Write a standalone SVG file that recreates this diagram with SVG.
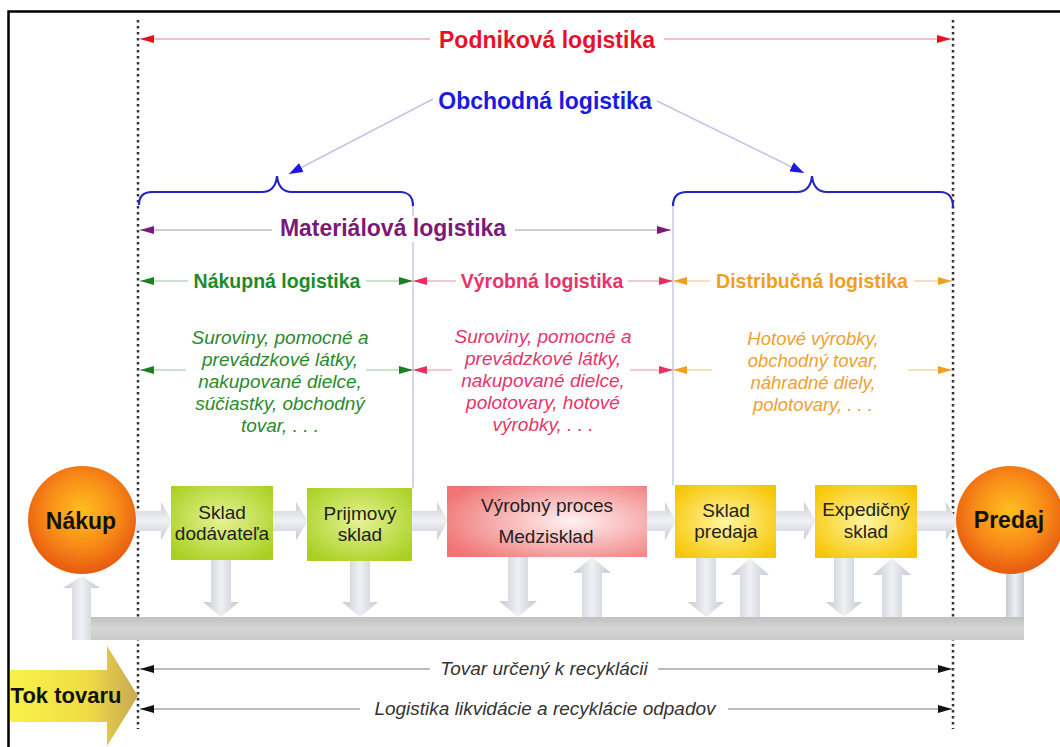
<svg xmlns="http://www.w3.org/2000/svg" width="1060" height="747" viewBox="0 0 1060 747">
<style>
text{font-family:"Liberation Sans",Arial,sans-serif;text-anchor:middle}
.hb{font-weight:bold;font-size:23px}
.hs{font-weight:bold;font-size:19.5px}
.it{font-style:italic;font-size:19px}
.bx{font-size:19px;fill:#222}
.cb{font-weight:bold;font-size:23px;fill:#111}
.dot{stroke:#333;stroke-width:2.5;stroke-dasharray:2.5 3.5;fill:none}
.ln{stroke-width:1.5;fill:none}
.brace{stroke:#2424c0;stroke-width:2.2;fill:none}
.vl{stroke:#c8c8e4;stroke-width:1.5}
.harr{fill:url(#gH)}
.varr{fill:url(#gV)}
</style>
<defs>
<marker id="mRed" viewBox="0 0 14 8" refX="14" refY="4" markerWidth="14" markerHeight="8" markerUnits="userSpaceOnUse" orient="auto-start-reverse"><path d="M0,0 L14,4 L0,8 z" fill="#e8101c"/></marker>
<marker id="mBlue" viewBox="0 0 14 10" refX="14" refY="5" markerWidth="14" markerHeight="10" markerUnits="userSpaceOnUse" orient="auto-start-reverse"><path d="M0,0 L14,5 L0,10 z" fill="#1a1ae0"/></marker>
<marker id="mPur" viewBox="0 0 14 8" refX="14" refY="4" markerWidth="14" markerHeight="8" markerUnits="userSpaceOnUse" orient="auto-start-reverse"><path d="M0,0 L14,4 L0,8 z" fill="#7a1a78"/></marker>
<marker id="mGrn" viewBox="0 0 14 8" refX="14" refY="4" markerWidth="14" markerHeight="8" markerUnits="userSpaceOnUse" orient="auto-start-reverse"><path d="M0,0 L14,4 L0,8 z" fill="#1e7e22"/></marker>
<marker id="mPnk" viewBox="0 0 14 8" refX="14" refY="4" markerWidth="14" markerHeight="8" markerUnits="userSpaceOnUse" orient="auto-start-reverse"><path d="M0,0 L14,4 L0,8 z" fill="#e83060"/></marker>
<marker id="mOrg" viewBox="0 0 14 8" refX="14" refY="4" markerWidth="14" markerHeight="8" markerUnits="userSpaceOnUse" orient="auto-start-reverse"><path d="M0,0 L14,4 L0,8 z" fill="#f0a020"/></marker>
<marker id="mBlk" viewBox="0 0 14 8" refX="14" refY="4" markerWidth="14" markerHeight="8" markerUnits="userSpaceOnUse" orient="auto-start-reverse"><path d="M0,0 L14,4 L0,8 z" fill="#111"/></marker>
<linearGradient id="gH" x1="0" y1="0" x2="0" y2="1"><stop offset="0" stop-color="#c8ccd6"/><stop offset="0.5" stop-color="#f0f2f6"/><stop offset="1" stop-color="#c4c8d2"/></linearGradient>
<linearGradient id="gV" x1="0" y1="0" x2="1" y2="0"><stop offset="0" stop-color="#c4c8d0"/><stop offset="0.5" stop-color="#eef0f4"/><stop offset="1" stop-color="#c4c8d0"/></linearGradient>
<linearGradient id="gBar" x1="0" y1="0" x2="0" y2="1"><stop offset="0" stop-color="#c0c0c0"/><stop offset="0.5" stop-color="#d6d6d6"/><stop offset="1" stop-color="#cacaca"/></linearGradient>
<radialGradient id="gGreen" cx="0.5" cy="0.45" r="0.65"><stop offset="0" stop-color="#e6f296"/><stop offset="1" stop-color="#a8d020"/></radialGradient>
<radialGradient id="gPink" cx="0.62" cy="0.5" r="0.7"><stop offset="0" stop-color="#fff2f2"/><stop offset="1" stop-color="#f07474"/></radialGradient>
<radialGradient id="gYel" cx="0.5" cy="0.5" r="0.65"><stop offset="0" stop-color="#fff6a0"/><stop offset="1" stop-color="#f6c400"/></radialGradient>
<radialGradient id="gOrb" cx="0.5" cy="0.42" r="0.55"><stop offset="0" stop-color="#ffc020"/><stop offset="0.6" stop-color="#f88a18"/><stop offset="1" stop-color="#e85e10"/></radialGradient>
<linearGradient id="gTok" x1="0" y1="0" x2="1" y2="0"><stop offset="0" stop-color="#f8f24a"/><stop offset="0.6" stop-color="#f0dc44"/><stop offset="1" stop-color="#c8a854"/></linearGradient>
</defs>

<rect x="0" y="0" width="1060" height="747" fill="#fff"/>
<rect x="8.5" y="11.5" width="1060" height="745" fill="none" stroke="#000" stroke-width="2.5"/>

<!-- dotted boundary lines -->
<g id="boundaries">
<line class="dot" x1="138" y1="20" x2="138" y2="729"/>
<line class="dot" x1="953" y1="20" x2="953" y2="729"/>
</g>

<!-- Tok tovaru arrow -->
<g id="tok-tovaru">
<path d="M10,670 H107 V646 L138,696 L107,746 V722 H10 Z" fill="url(#gTok)"/>
<text x="66" y="703" style="font-weight:bold;font-size:22px;fill:#111">Tok tovaru</text>
</g>

<!-- connectors -->
<g id="connectors">
<path class="brace" d="M139,205 C139,197 143,192 152,192 L262,192 C272,192 276,186 277,176 C278,186 282,192 292,192 L400,192 C408,192 413,197 413,206"/>
<path class="brace" d="M673,206 C673,197 678,192 687,192 L797,192 C807,192 811,186 812,176 C813,186 817,192 827,192 L940,192 C948,192 953,197 953,207"/>
<line class="vl" x1="413" y1="206" x2="413" y2="488"/>
<line class="vl" x1="673" y1="206" x2="673" y2="485"/>

<line class="ln" stroke="#f4a8b0" x1="430" y1="39" x2="140" y2="39" marker-end="url(#mRed)"/>
<line class="ln" stroke="#f4a8b0" x1="664" y1="39" x2="951" y2="39" marker-end="url(#mRed)"/>

<line class="ln" stroke="#c4c4e8" x1="433" y1="99" x2="289" y2="174" marker-end="url(#mBlue)"/>
<line class="ln" stroke="#c4c4e8" x1="657" y1="101" x2="804" y2="173" marker-end="url(#mBlue)"/>

<line class="ln" stroke="#ccb4cc" x1="272" y1="230" x2="140" y2="230" marker-end="url(#mPur)"/>
<line class="ln" stroke="#ccb4cc" x1="515" y1="230" x2="671" y2="230" marker-end="url(#mPur)"/>

<line class="ln" stroke="#bcd6bc" x1="188" y1="281" x2="140" y2="281" marker-end="url(#mGrn)"/>
<line class="ln" stroke="#bcd6bc" x1="366" y1="281" x2="413" y2="281" marker-end="url(#mGrn)"/>
<line class="ln" stroke="#f4b4c6" x1="456" y1="281" x2="413" y2="281" marker-end="url(#mPnk)"/>
<line class="ln" stroke="#f4b4c6" x1="628" y1="281" x2="673" y2="281" marker-end="url(#mPnk)"/>
<line class="ln" stroke="#f8d4a4" x1="710" y1="281" x2="673" y2="281" marker-end="url(#mOrg)"/>
<line class="ln" stroke="#f8d4a4" x1="914" y1="281" x2="952" y2="281" marker-end="url(#mOrg)"/>

<line class="ln" stroke="#bcd6bc" x1="186" y1="370" x2="140" y2="370" marker-end="url(#mGrn)"/>
<line class="ln" stroke="#bcd6bc" x1="366" y1="370" x2="413" y2="370" marker-end="url(#mGrn)"/>
<line class="ln" stroke="#f4b4c6" x1="452" y1="370" x2="413" y2="370" marker-end="url(#mPnk)"/>
<line class="ln" stroke="#f4b4c6" x1="630" y1="370" x2="673" y2="370" marker-end="url(#mPnk)"/>
<line class="ln" stroke="#f8d4a4" x1="712" y1="370" x2="673" y2="370" marker-end="url(#mOrg)"/>
<line class="ln" stroke="#f8d4a4" x1="908" y1="370" x2="952" y2="370" marker-end="url(#mOrg)"/>

<line class="ln" stroke="#a4a4a4" x1="430" y1="669" x2="140" y2="669" marker-end="url(#mBlk)"/>
<line class="ln" stroke="#a4a4a4" x1="658" y1="669" x2="952" y2="669" marker-end="url(#mBlk)"/>
<line class="ln" stroke="#a4a4a4" x1="360" y1="709" x2="140" y2="709" marker-end="url(#mBlk)"/>
<line class="ln" stroke="#a4a4a4" x1="728" y1="709" x2="952" y2="709" marker-end="url(#mBlk)"/>

<!-- flow block arrows -->
<path class="harr" d="M136,511 H161 V502 L172,521 L161,540 V531 H136 Z"/>
<path class="harr" d="M272,511 H296 V502 L308,521 L296,540 V531 H272 Z"/>
<path class="harr" d="M411,511 H437 V502 L448,521 L437,540 V531 H411 Z"/>
<path class="harr" d="M646,511 H665 V502 L676,521 L665,540 V531 H646 Z"/>
<path class="harr" d="M775,511 H804 V502 L816,521 L804,540 V531 H775 Z"/>
<path class="harr" d="M916,511 H946 V502 L958,521 L946,540 V531 H916 Z"/>

<path class="varr" d="M211,559 V602 H203 L221,617 L239,602 H231 V559 Z"/>
<path class="varr" d="M350,560 V602 H342 L360,617 L378,602 H370 V560 Z"/>
<path class="varr" d="M508,556 V601 H499 L518,617 L537,601 H528 V556 Z"/>
<path class="varr" d="M696,557 V602 H688 L706,617 L724,602 H716 V557 Z"/>
<path class="varr" d="M834,557 V602 H826 L844,617 L862,602 H854 V557 Z"/>

<path class="varr" d="M582,618 V573 H573 L592,557 L611,573 H602 V618 Z"/>
<path class="varr" d="M740,618 V575 H731 L750,558 L769,575 H760 V618 Z"/>
<path class="varr" d="M882,618 V575 H873 L892,558 L911,575 H902 V618 Z"/>

<!-- return bar -->
<path class="varr" d="M1006,560 H1024 V640 H1006 Z"/>
<rect x="90" y="617" width="934" height="23" fill="url(#gBar)"/>
<path class="varr" d="M72,640 V588 H63 L82,576 L100,588 H91 V640 Z"/>
</g>

<!-- headings -->
<g id="podnikova">
<text class="hb" x="547" y="48" fill="#e8102a">Podniková logistika</text>
</g>
<g id="obchodna">
<text class="hb" x="545" y="109" fill="#1a1ae0">Obchodná logistika</text>
</g>
<g id="materialova">
<rect x="278" y="216" width="232" height="26" fill="#fff"/>
<text class="hb" x="393" y="236" fill="#7a1a78">Materiálová logistika</text>
</g>
<g id="nakupna">
<text class="hs" x="277" y="288" fill="#1e8a2a">Nákupná logistika</text>
<text class="it" fill="#2a8a2a"><tspan x="280" y="344">Suroviny, pomocné a</tspan><tspan x="280" y="366">prevádzkové látky,</tspan><tspan x="280" y="388">nakupované dielce,</tspan><tspan x="280" y="410">súčiastky, obchodný</tspan><tspan x="280" y="432">tovar, . . .</tspan></text>
</g>
<g id="vyrobna">
<text class="hs" x="542" y="288" fill="#e8346a">Výrobná logistika</text>
<text class="it" fill="#e8346a"><tspan x="543" y="343">Suroviny, pomocné a</tspan><tspan x="543" y="365">prevádzkové látky,</tspan><tspan x="543" y="387">nakupované dielce,</tspan><tspan x="543" y="409">polotovary, hotové</tspan><tspan x="543" y="431">výrobky, . . .</tspan></text>
</g>
<g id="distribucna">
<text class="hs" x="812" y="288" fill="#f0a020">Distribučná logistika</text>
<text class="it" style="font-size:18.5px" fill="#f0a030"><tspan x="813" y="345">Hotové výrobky,</tspan><tspan x="813" y="367">obchodný tovar,</tspan><tspan x="813" y="389">náhradné diely,</tspan><tspan x="813" y="411">polotovary, . . .</tspan></text>
</g>

<g id="bottom-labels">
<text class="it" x="544" y="675" fill="#333">Tovar určený k recyklácii</text>
<text class="it" x="545" y="715" fill="#333">Logistika likvidácie a recyklácie odpadov</text>
</g>

<!-- nodes -->
<g id="nakup">
<circle cx="82" cy="520" r="54" fill="url(#gOrb)"/>
<text class="cb" x="81" y="529">Nákup</text>
</g>
<g id="predaj">
<circle cx="1010" cy="520" r="54" fill="url(#gOrb)"/>
<text class="cb" x="1009" y="528">Predaj</text>
</g>
<g id="sklad-dodavatela">
<rect x="171" y="486" width="102" height="74" fill="url(#gGreen)"/>
<text class="bx" x="222" y="519">Sklad</text>
<text class="bx" x="222" y="540">dodávateľa</text>
</g>
<g id="prijmovy-sklad">
<rect x="307" y="488" width="105" height="73" fill="url(#gGreen)"/>
<text class="bx" x="360" y="520">Prijmový</text>
<text class="bx" x="360" y="541">sklad</text>
</g>
<g id="vyrobny-proces">
<rect x="447" y="486" width="200" height="71" fill="url(#gPink)"/>
<text class="bx" x="547" y="512">Výrobný proces</text>
<text class="bx" x="546" y="543">Medzisklad</text>
</g>
<g id="sklad-predaja">
<rect x="675" y="485" width="101" height="73" fill="url(#gYel)"/>
<text class="bx" x="726" y="517">Sklad</text>
<text class="bx" x="726" y="538">predaja</text>
</g>
<g id="expedicny-sklad">
<rect x="815" y="485" width="102" height="73" fill="url(#gYel)"/>
<text class="bx" x="866" y="516">Expedičný</text>
<text class="bx" x="866" y="538">sklad</text>
</g>
</svg>
